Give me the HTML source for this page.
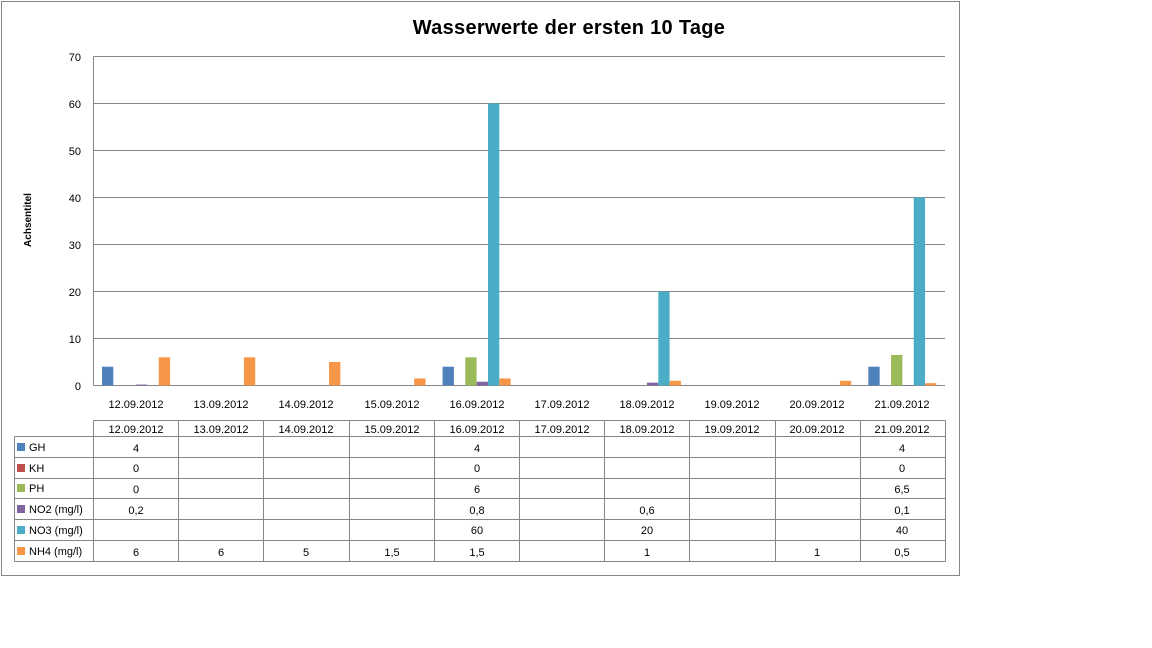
<!DOCTYPE html>
<html><head><meta charset="utf-8"><style>
html,body{margin:0;padding:0;background:#fff;}
svg{display:block;font-family:"Liberation Sans",sans-serif;}
</style></head><body>
<svg width="1152" height="648" viewBox="0 0 1152 648">
<rect x="1.5" y="1.5" width="958" height="574" fill="#fff" stroke="#868686"/>
<text x="569" y="34" text-anchor="middle" font-size="20" font-weight="bold" letter-spacing="0.3" fill="#000">Wasserwerte der ersten 10 Tage</text>
<text transform="translate(31,220) rotate(-90)" text-anchor="middle" font-size="10" font-weight="bold">Achsentitel</text>
<g stroke="#868686" stroke-width="1">
<line x1="93.5" y1="56.5" x2="945" y2="56.5"/>
<line x1="93.5" y1="103.5" x2="945" y2="103.5"/>
<line x1="93.5" y1="150.5" x2="945" y2="150.5"/>
<line x1="93.5" y1="197.5" x2="945" y2="197.5"/>
<line x1="93.5" y1="244.5" x2="945" y2="244.5"/>
<line x1="93.5" y1="291.5" x2="945" y2="291.5"/>
<line x1="93.5" y1="338.5" x2="945" y2="338.5"/>
<line x1="93.5" y1="385.5" x2="945" y2="385.5"/>
<line x1="93.5" y1="56.5" x2="93.5" y2="385.5"/>
</g>
<g font-size="11" text-anchor="end" fill="#000">
<text x="81" y="61">70</text><text x="81" y="108">60</text><text x="81" y="155">50</text>
<text x="81" y="202">40</text><text x="81" y="249">30</text><text x="81" y="296">20</text>
<text x="81" y="343">10</text><text x="81" y="390">0</text>
</g>
<g>
<rect x="102" y="366.7" width="11.3" height="18.8" fill="#4F81BD"/>
<rect x="136.05" y="384.56" width="11.3" height="0.94" fill="#8064A2"/>
<rect x="158.75" y="357.3" width="11.3" height="28.2" fill="#F79646"/>
<rect x="243.9" y="357.3" width="11.3" height="28.2" fill="#F79646"/>
<rect x="329.05" y="362" width="11.3" height="23.5" fill="#F79646"/>
<rect x="414.2" y="378.45" width="11.3" height="7.05" fill="#F79646"/>
<rect x="442.6" y="366.7" width="11.3" height="18.8" fill="#4F81BD"/>
<rect x="465.3" y="357.3" width="11.3" height="28.2" fill="#9BBB59"/>
<rect x="476.65" y="381.74" width="11.3" height="3.76" fill="#8064A2"/>
<rect x="488" y="103.5" width="11.3" height="282" fill="#4BACC6"/>
<rect x="499.35" y="378.45" width="11.3" height="7.05" fill="#F79646"/>
<rect x="646.95" y="382.68" width="11.3" height="2.82" fill="#8064A2"/>
<rect x="658.3" y="291.5" width="11.3" height="94" fill="#4BACC6"/>
<rect x="669.65" y="380.8" width="11.3" height="4.7" fill="#F79646"/>
<rect x="839.95" y="380.8" width="11.3" height="4.7" fill="#F79646"/>
<rect x="868.35" y="366.7" width="11.3" height="18.8" fill="#4F81BD"/>
<rect x="891.05" y="354.95" width="11.3" height="30.55" fill="#9BBB59"/>
<rect x="902.4" y="385.03" width="11.3" height="0.47" fill="#8064A2"/>
<rect x="913.75" y="197.5" width="11.3" height="188" fill="#4BACC6"/>
<rect x="925.1" y="383.15" width="11.3" height="2.35" fill="#F79646"/>
</g>
<g font-size="11" text-anchor="middle" fill="#000">
<text x="136" y="408">12.09.2012</text><text x="221" y="408">13.09.2012</text><text x="306" y="408">14.09.2012</text>
<text x="392" y="408">15.09.2012</text><text x="477" y="408">16.09.2012</text><text x="562" y="408">17.09.2012</text>
<text x="647" y="408">18.09.2012</text><text x="732" y="408">19.09.2012</text><text x="817" y="408">20.09.2012</text>
<text x="902" y="408">21.09.2012</text>
</g>
<g stroke="#868686" stroke-width="1" fill="none">
<line x1="93.5" y1="420.5" x2="945.5" y2="420.5"/>
<line x1="14.5" y1="436.5" x2="945.5" y2="436.5"/>
<line x1="14.5" y1="457.5" x2="945.5" y2="457.5"/>
<line x1="14.5" y1="478.5" x2="945.5" y2="478.5"/>
<line x1="14.5" y1="498.5" x2="945.5" y2="498.5"/>
<line x1="14.5" y1="519.5" x2="945.5" y2="519.5"/>
<line x1="14.5" y1="540.5" x2="945.5" y2="540.5"/>
<line x1="14.5" y1="561.5" x2="945.5" y2="561.5"/>
<line x1="14.5" y1="436.5" x2="14.5" y2="561.5"/>
<line x1="93.5" y1="420.5" x2="93.5" y2="561.5"/>
<line x1="178.5" y1="420.5" x2="178.5" y2="561.5"/>
<line x1="263.5" y1="420.5" x2="263.5" y2="561.5"/>
<line x1="349.5" y1="420.5" x2="349.5" y2="561.5"/>
<line x1="434.5" y1="420.5" x2="434.5" y2="561.5"/>
<line x1="519.5" y1="420.5" x2="519.5" y2="561.5"/>
<line x1="604.5" y1="420.5" x2="604.5" y2="561.5"/>
<line x1="689.5" y1="420.5" x2="689.5" y2="561.5"/>
<line x1="775.5" y1="420.5" x2="775.5" y2="561.5"/>
<line x1="860.5" y1="420.5" x2="860.5" y2="561.5"/>
<line x1="945.5" y1="420.5" x2="945.5" y2="561.5"/>
</g>
<g font-size="11" text-anchor="middle" fill="#000">
<text x="136" y="433">12.09.2012</text><text x="221" y="433">13.09.2012</text><text x="306" y="433">14.09.2012</text>
<text x="392" y="433">15.09.2012</text><text x="477" y="433">16.09.2012</text><text x="562" y="433">17.09.2012</text>
<text x="647" y="433">18.09.2012</text><text x="732" y="433">19.09.2012</text><text x="817" y="433">20.09.2012</text>
<text x="902" y="433">21.09.2012</text>
<text x="136" y="452">4</text><text x="477" y="452">4</text><text x="902" y="452">4</text>
<text x="136" y="472">0</text><text x="477" y="472">0</text><text x="902" y="472">0</text>
<text x="136" y="493">0</text><text x="477" y="493">6</text><text x="902" y="493">6,5</text>
<text x="136" y="514">0,2</text><text x="477" y="514">0,8</text><text x="647" y="514">0,6</text><text x="902" y="514">0,1</text>
<text x="477" y="534">60</text><text x="647" y="534">20</text><text x="902" y="534">40</text>
<text x="136" y="556">6</text><text x="221" y="556">6</text><text x="306" y="556">5</text><text x="392" y="556">1,5</text>
<text x="477" y="556">1,5</text><text x="647" y="556">1</text><text x="817" y="556">1</text><text x="902" y="556">0,5</text>
</g>
<g font-size="11" fill="#000">
<rect x="17" y="443" width="8" height="8" fill="#4F81BD"/><text x="29" y="451">GH</text>
<rect x="17" y="464" width="8" height="8" fill="#C0504D"/><text x="29" y="472">KH</text>
<rect x="17" y="484" width="8" height="8" fill="#9BBB59"/><text x="29" y="492">PH</text>
<rect x="17" y="505" width="8" height="8" fill="#8064A2"/><text x="29" y="513">NO2 (mg/l)</text>
<rect x="17" y="526" width="8" height="8" fill="#4BACC6"/><text x="29" y="534">NO3 (mg/l)</text>
<rect x="17" y="547" width="8" height="8" fill="#F79646"/><text x="29" y="555">NH4 (mg/l)</text>
</g>
</svg>
</body></html>
